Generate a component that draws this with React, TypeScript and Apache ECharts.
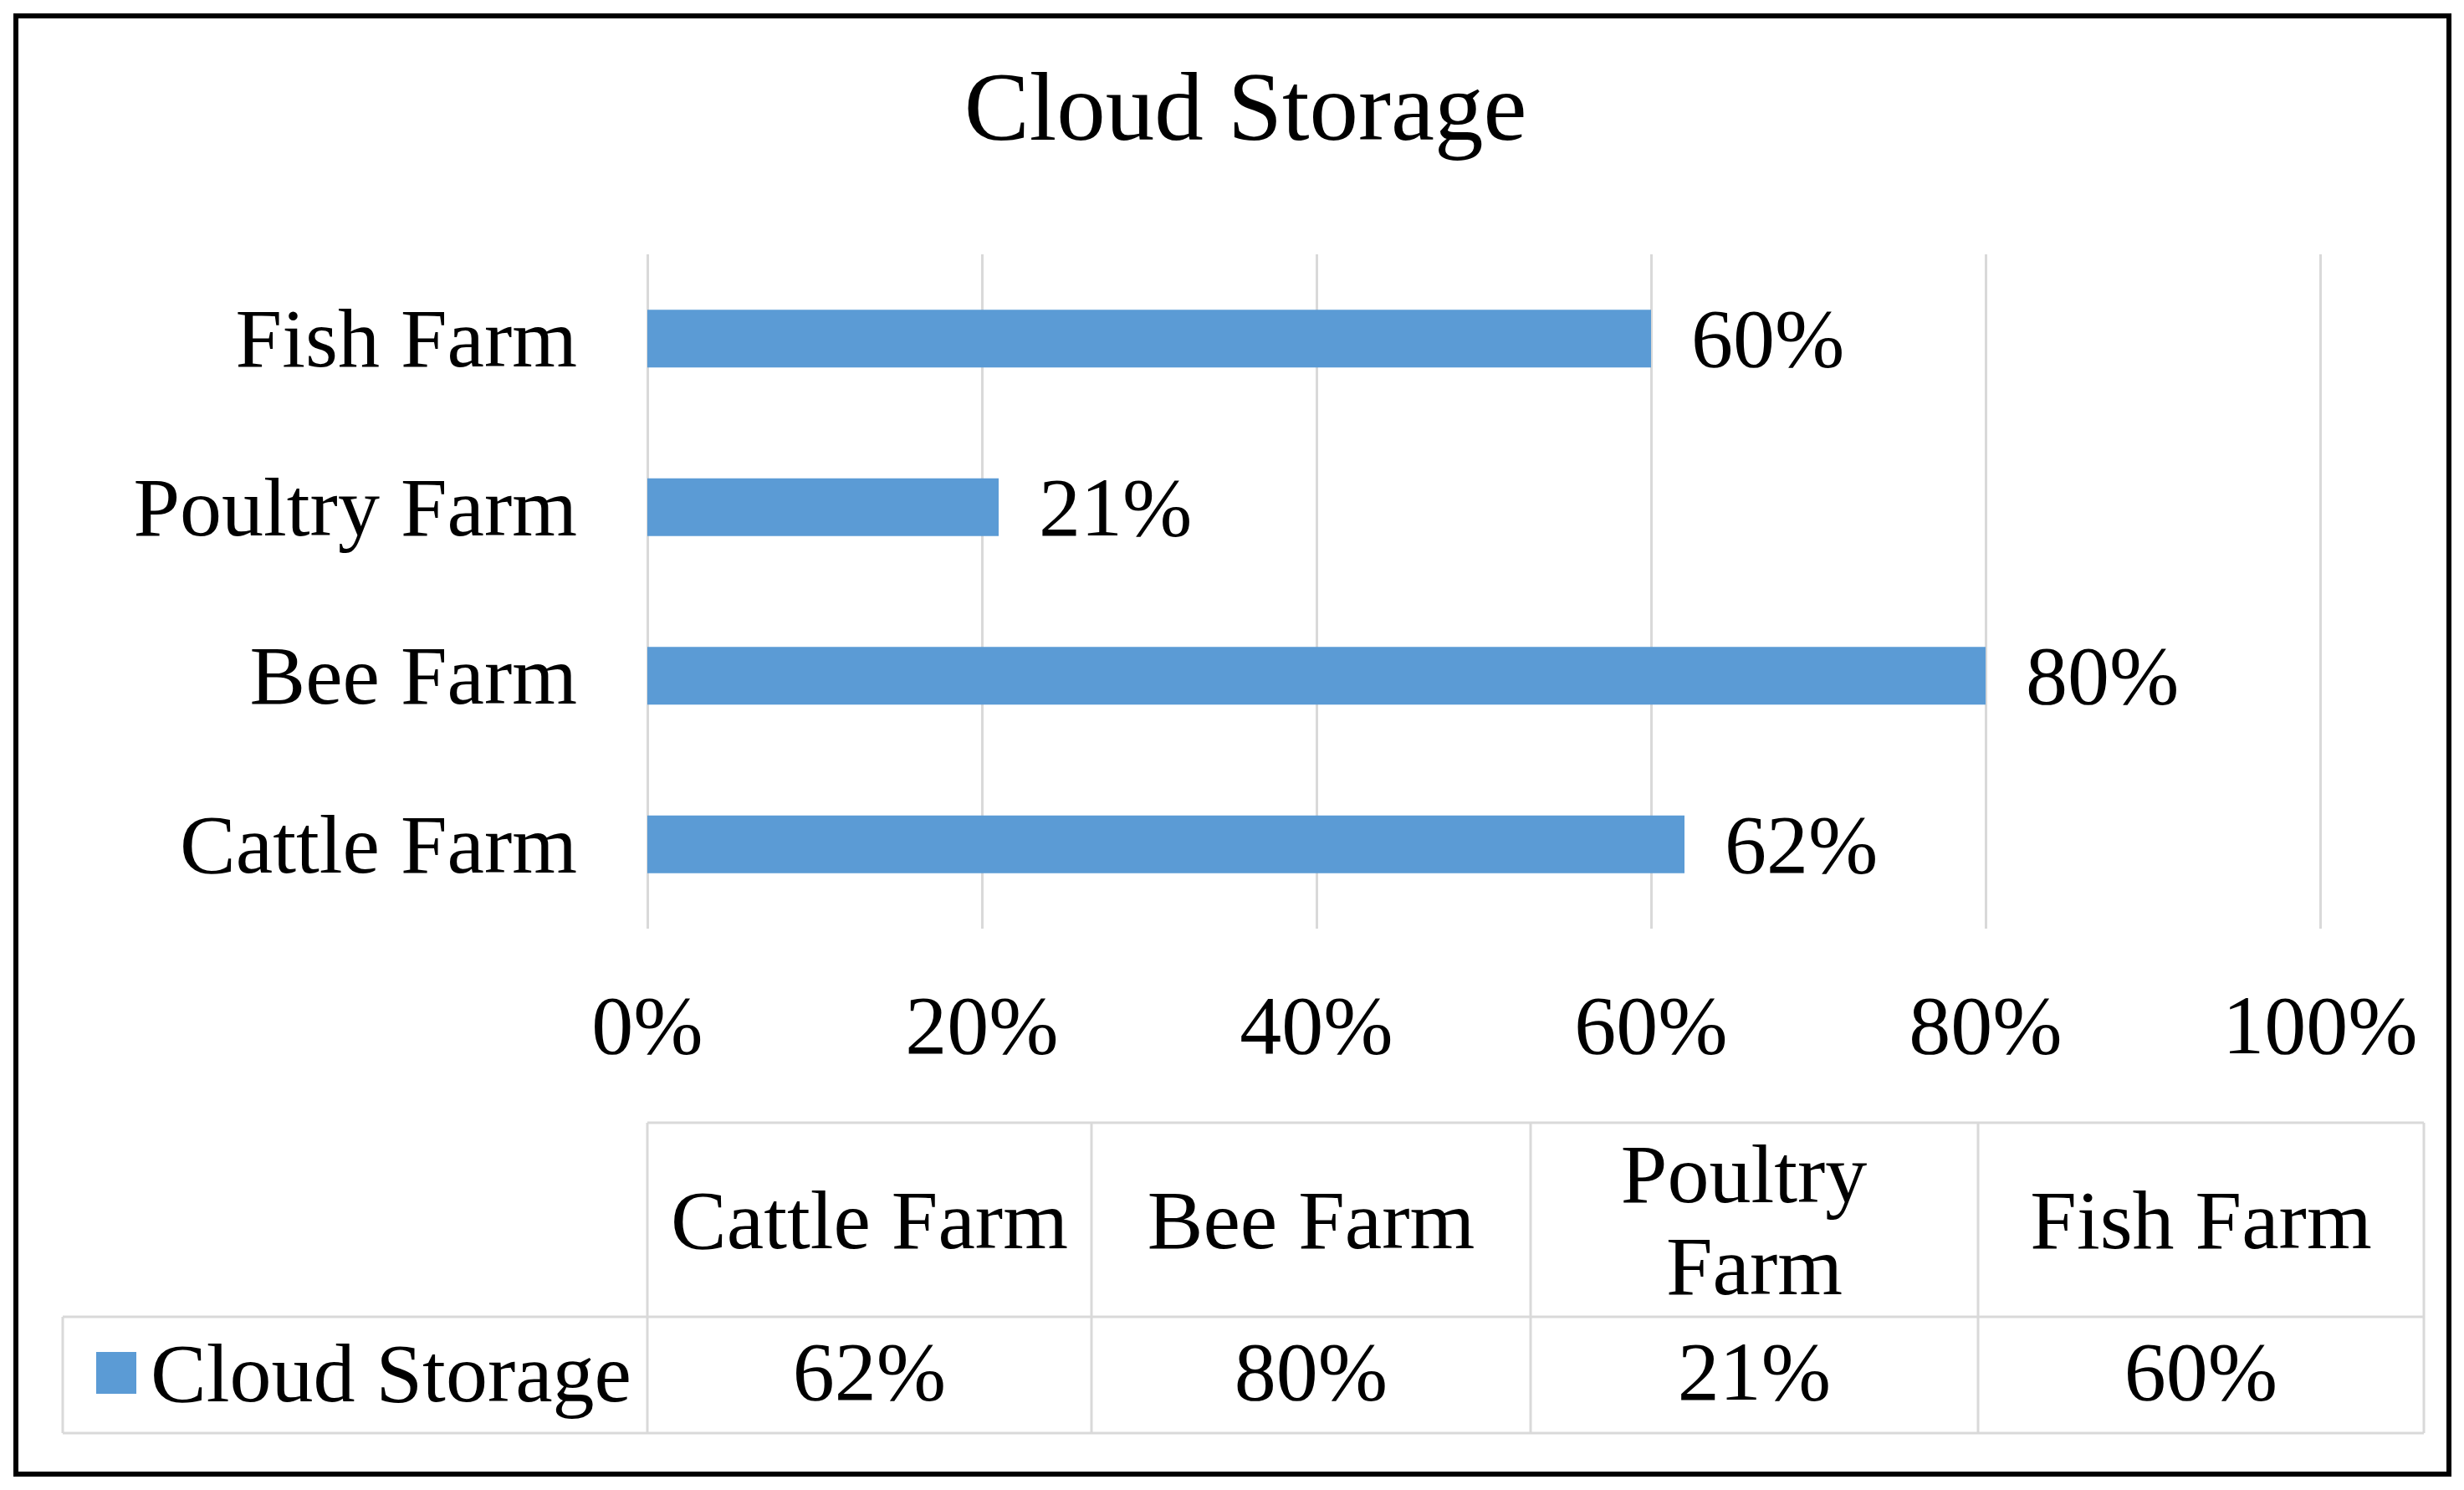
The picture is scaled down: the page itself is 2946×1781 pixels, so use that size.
import React, { useEffect, useRef } from "react";
import * as echarts from "echarts";

const categories = ["Cattle Farm", "Bee Farm", "Poultry Farm", "Fish Farm"];
const cloudStorage = [0.62, 0.8, 0.21, 0.6];
const seriesName = "Cloud Storage";
const chartTitle = "Cloud Storage";
const xTicks = [0, 0.2, 0.4, 0.6, 0.8, 1.0];

const FONT = "'Liberation Serif', 'Times New Roman', serif";
const BAR_COLOR = "#5B9BD5";
const LINE_COLOR = "#D9D9D9";
const TEXT_COLOR = "#000000";

const pct = (v: number) => `${Math.round(v * 100)}%`;

export default function App() {
  const ref = useRef<HTMLDivElement>(null);

  useEffect(() => {
    if (!ref.current) return;
    const chart = echarts.init(ref.current, undefined, { renderer: "svg" });

    // data table layout
    const tableTop = 1342;
    const tableMid = 1574;
    const tableBottom = 1713;
    const legendLeft = 75;
    const colX = [774, 1305, 1830, 2365, 2898];

    const graphics: any[] = [];
    // outer border
    graphics.push({
      type: "rect",
      shape: { x: 19, y: 19, width: 2909, height: 1743 },
      style: { fill: "none", stroke: "#000", lineWidth: 6 },
      silent: true,
    });
    const hLine = (x1: number, x2: number, y: number) =>
      graphics.push({
        type: "line",
        shape: { x1, y1: y, x2, y2: y },
        style: { stroke: LINE_COLOR, lineWidth: 3 },
        silent: true,
      });
    const vLine = (x: number, y1: number, y2: number) =>
      graphics.push({
        type: "line",
        shape: { x1: x, y1, x2: x, y2 },
        style: { stroke: LINE_COLOR, lineWidth: 3 },
        silent: true,
      });
    hLine(colX[0], colX[colX.length - 1], tableTop);
    hLine(legendLeft, colX[colX.length - 1], tableMid);
    hLine(legendLeft, colX[colX.length - 1], tableBottom);
    vLine(legendLeft, tableMid, tableBottom);
    colX.forEach((x) => vLine(x, tableTop, tableBottom));

    categories.forEach((c, i) => {
      const cx = (colX[i] + colX[i + 1]) / 2;
      const w = colX[i + 1] - colX[i];
      graphics.push({
        type: "text",
        x: cx,
        y: (tableTop + tableMid) / 2,
        style: {
          text: c,
          width: w - 30,
          overflow: "break",
          align: "center",
          verticalAlign: "middle",
          fontFamily: FONT,
          fontSize: 100,
          lineHeight: 110,
          fill: TEXT_COLOR,
        },
        silent: true,
      });
      graphics.push({
        type: "text",
        x: cx,
        y: (tableMid + tableBottom) / 2 - 4,
        style: {
          text: pct(cloudStorage[i]),
          align: "center",
          verticalAlign: "middle",
          fontFamily: FONT,
          fontSize: 100,
          fill: TEXT_COLOR,
        },
        silent: true,
      });
    });

    chart.setOption({
      animation: false,
      backgroundColor: "#ffffff",
      title: {
        text: chartTitle,
        left: 1484,
        textAlign: "center",
        top: 64,
        textStyle: {
          fontFamily: FONT,
          fontSize: 117,
          fontWeight: "normal",
          color: TEXT_COLOR,
        },
      },
      legend: {
        data: [seriesName],
        left: 110,
        top: 1586,
        icon: "rect",
        itemWidth: 48,
        itemHeight: 50,
        selectedMode: false,
        textStyle: {
          fontFamily: FONT,
          fontSize: 100,
          lineHeight: 100,
          color: TEXT_COLOR,
          padding: [0, 0, 0, 12],
        },
      },
      grid: {
        left: 774,
        right: 2946 - 2774,
        top: 304,
        bottom: 1781 - 1110,
        containLabel: false,
      },
      xAxis: {
        type: "value",
        min: xTicks[0],
        max: xTicks[xTicks.length - 1],
        interval: xTicks[1] - xTicks[0],
        axisLine: { show: false },
        axisTick: { show: false },
        splitLine: { show: true, lineStyle: { color: LINE_COLOR, width: 3 } },
        axisLabel: {
          formatter: (v: number) => pct(v),
          fontFamily: FONT,
          fontSize: 100,
          color: TEXT_COLOR,
          margin: 65,
        },
      },
      yAxis: {
        type: "category",
        data: categories,
        axisLine: { show: false },
        axisTick: { show: false },
        axisLabel: {
          fontFamily: FONT,
          fontSize: 100,
          color: TEXT_COLOR,
          margin: 84,
        },
      },
      series: [
        {
          name: seriesName,
          type: "bar",
          data: cloudStorage,
          barWidth: 69,
          itemStyle: { color: BAR_COLOR },
          label: {
            show: true,
            position: "right",
            distance: 48,
            formatter: (p: any) => pct(p.value),
            fontFamily: FONT,
            fontSize: 100,
            color: TEXT_COLOR,
          },
        },
      ],
      graphic: graphics,
    });

    return () => chart.dispose();
  }, []);

  return (
    <div
      ref={ref}
      style={{ position: "absolute", left: 0, top: 0, width: 2946, height: 1781 }}
    />
  );
}
